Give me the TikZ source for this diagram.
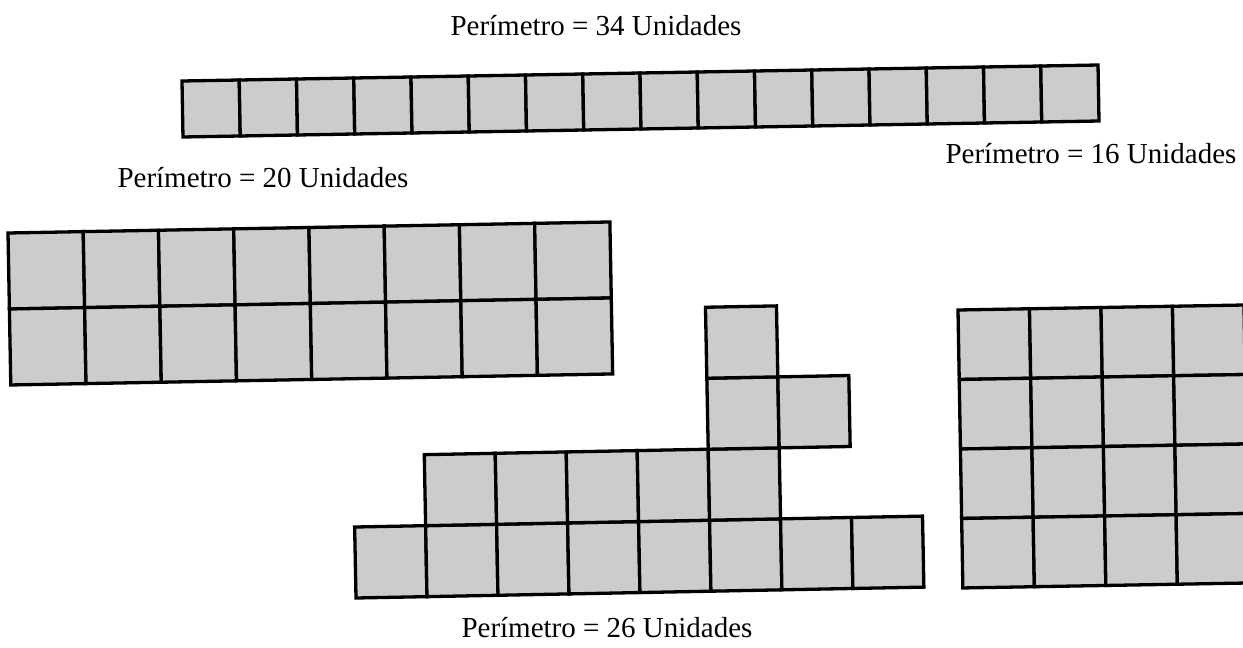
\documentclass[tikz,border=0pt]{standalone}
\usepackage{fontspec}
\setmainfont{Liberation Serif}
\usepackage{xcolor}
\usepackage{tikz}
\usetikzlibrary{positioning}
\definecolor{celgray}{RGB}{204,204,204}

\begin{document}
\begin{tikzpicture}[
    x=1pt, y=-1pt,
    cell/.style={draw=black, line width=3.3pt, fill=celgray, line join=miter},
    lbl/.style={anchor=base, inner sep=0pt, font=\fontsize{29}{34}\selectfont}
]
\useasboundingbox (0,0) rectangle (1243,648);

% perimetro 34: tira de 1 x 16
\begin{scope}[shift={(182,81)}, rotate=1, x=57.26pt, y=-56pt]
  \foreach \c in {0,...,15}
    \draw[cell] (\c,0) rectangle ++(1,1);
\end{scope}

% perimetro 20: rectangulo de 2 x 8
\begin{scope}[shift={(8,233)}, rotate=1.05, x=75.25pt, y=-76pt]
  \foreach \r in {0,1}
    \foreach \c in {0,...,7}
      \draw[cell] (\c,\r) rectangle ++(1,1);
\end{scope}

% perimetro 26: figura escalonada
\begin{scope}[shift={(356,598)}, rotate=1.1, x=71pt, y=71pt]
  \foreach \c in {0,...,7}
    \draw[cell] (\c,0) rectangle ++(1,1);
  \foreach \c in {1,...,5}
    \draw[cell] (\c,1) rectangle ++(1,1);
  \draw[cell] (5,2) rectangle ++(1,1);
  \draw[cell] (6,2) rectangle ++(1,1);
  \draw[cell] (5,3) rectangle ++(1,1);
\end{scope}

% perimetro 16: cuadrado de 4 x 4 (cortado a la derecha)
\begin{scope}
  \clip (0,0) rectangle (1243,648);
  \begin{scope}[shift={(958,310)}, rotate=1, x=71.5pt, y=-69.5pt]
    \foreach \r in {0,...,3}
      \foreach \c in {0,...,3}
        \draw[cell] (\c,\r) rectangle ++(1,1);
  \end{scope}
\end{scope}

\node[lbl] (p34) at (596,35) {Perímetro = 34 Unidades};
\node[lbl] (p20) at (263,187) {Perímetro = 20 Unidades};
\node[lbl] (p16) at (1091,163) {Perímetro = 16 Unidades};
\node[lbl] (p26) at (607,637) {Perímetro = 26 Unidades};
\end{tikzpicture}
\end{document}
